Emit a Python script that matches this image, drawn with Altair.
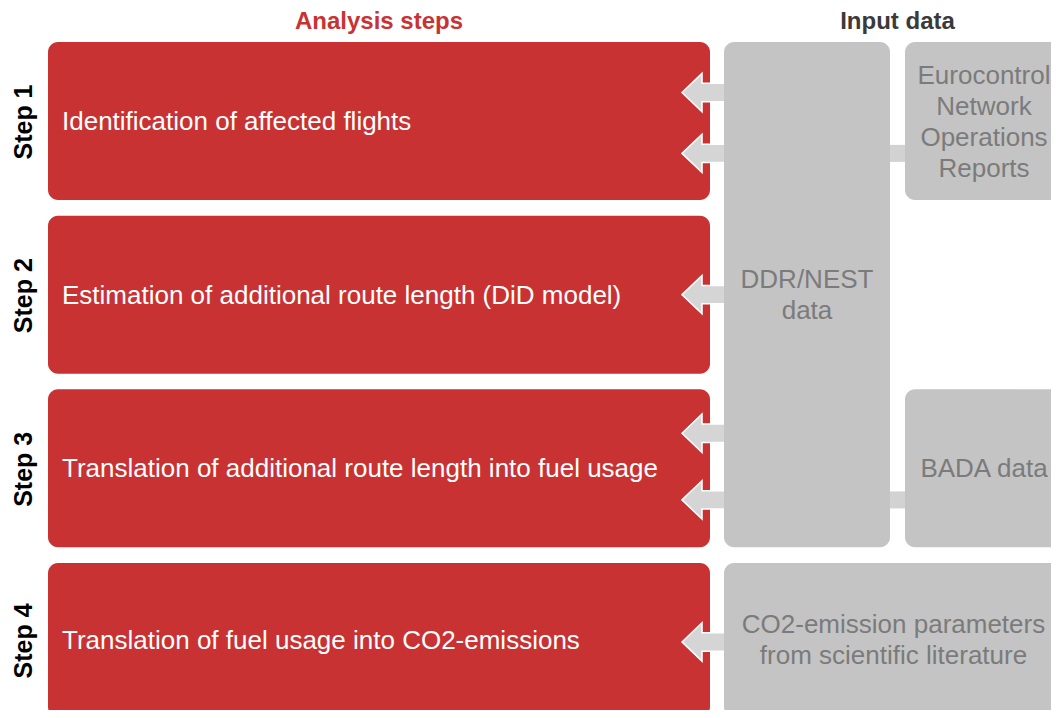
import altair as alt
import pandas as pd

# ---------------- data ----------------
headers = ["Analysis steps", "Input data"]
steps = ["Step 1", "Step 2", "Step 3", "Step 4"]
step_texts = [
    "Identification of affected flights",
    "Estimation of additional route length (DiD model)",
    "Translation of additional route length into fuel usage",
    "Translation of fuel usage into CO2-emissions",
]
input_labels = [
    "Eurocontrol\nNetwork\nOperations\nReports",
    "DDR/NEST\ndata",
    "BADA data",
    "CO2-emission parameters\nfrom scientific literature",
]
input_col_span = [(2, 2), (1, 1), (2, 2), (1, 2)]
input_row_span = [(0, 0), (0, 2), (2, 2), (3, 3)]
arrow_step = [0, 0, 1, 2, 2, 3]
arrow_frac = [0.32, 0.705, 0.5, 0.278, 0.70, 0.5]
connector_step = [0, 2]
connector_frac = [0.705, 0.70]

# ---------------- layout ----------------
ROW_TOP0, ROW_PITCH, ROW_H, BOTTOM = 42.0, 173.65, 158.0, 717.0
COLS = {0: (48, 710), 1: (724, 890), 2: (905, 1063)}
RED, GREY, ARROW, LINK, GTEXT = "#c93232", "#c4c4c4", "#d5d5d5", "#d2d2d2", "#7b7b7b"
FONT = "Liberation Sans, Arial, Helvetica, sans-serif"
LINE_H = 31
W, H = 1043, 702


def rtop(i):
    return ROW_TOP0 + i * ROW_PITCH


def rbot(i):
    return min(rtop(i) + ROW_H, BOTTOM)


red_df = pd.DataFrame({
    "step": steps,
    "text": step_texts,
    "x": [COLS[0][0]] * 4,
    "x2": [COLS[0][1]] * 4,
    "y": [rtop(i) for i in range(4)],
    "y2": [rbot(i) for i in range(4)],
    "tx": [62] * 4,
    "cy": [(rtop(i) + rbot(i)) / 2 + 1 for i in range(4)],
    "lx": [24] * 4,
})

inp_df = pd.DataFrame({
    "label": input_labels,
    "x": [COLS[c[0]][0] for c in input_col_span],
    "x2": [COLS[c[1]][1] + 20 for c in input_col_span],
    "cx": [(COLS[c[0]][0] + COLS[c[1]][1]) / 2 for c in input_col_span],
    "y": [rtop(r[0]) for r in input_row_span],
    "y2": [rbot(r[1]) for r in input_row_span],
})
inp_df.loc[inp_df["x2"] < 1000, "x2"] -= 20
inp_df["ty"] = [
    (a + b) / 2 + 1 - (lab.count("\n")) * LINE_H / 2
    for a, b, lab in zip(inp_df["y"], inp_df["y2"], inp_df["label"])
]

arr_df = pd.DataFrame({
    "x": [704] * len(arrow_step),
    "y": [rtop(s) + f * ROW_H for s, f in zip(arrow_step, arrow_frac)],
})

con_df = pd.DataFrame({
    "x": [COLS[1][1] - 2] * len(connector_step),
    "x2": [COLS[2][0] + 2] * len(connector_step),
    "y": [rtop(s) + f * ROW_H - 8.5 for s, f in zip(connector_step, connector_frac)],
    "y2": [rtop(s) + f * ROW_H + 8.5 for s, f in zip(connector_step, connector_frac)],
})

hdr_df = pd.DataFrame({
    "text": headers,
    "x": [(COLS[0][0] + COLS[0][1]) / 2, (COLS[1][0] + 1071) / 2],
    "y": [22, 22],
    "color": [RED, "#3a3a3a"],
})

xs = alt.Scale(domain=[8, 8 + W], nice=False, zero=False)
ys = alt.Scale(domain=[8, 8 + H], nice=False, zero=False, reverse=True)
X = lambda f: alt.X(f, type="quantitative", scale=xs, axis=None)
Y = lambda f: alt.Y(f, type="quantitative", scale=ys, axis=None)

red_boxes = alt.Chart(red_df).mark_rect(color=RED, cornerRadius=10).encode(
    x=X("x"), x2="x2", y=Y("y"), y2="y2")

links = alt.Chart(con_df).mark_rect(color=LINK).encode(
    x=X("x"), x2="x2", y=Y("y"), y2="y2")

ARROW_PATH = ("M -1 0 L -0.09 -0.873 L -0.09 -0.418 L 1 -0.418 "
              "L 1 0.418 L -0.09 0.418 L -0.09 0.873 Z")
arrows = alt.Chart(arr_df).mark_point(
    shape=ARROW_PATH, filled=True, size=44 * 44, fill=ARROW, stroke="white",
    strokeWidth=1.5, opacity=1, fillOpacity=1, strokeOpacity=1,
).encode(x=X("x"), y=Y("y"))

grey_boxes = alt.Chart(inp_df).mark_rect(color=GREY, cornerRadius=10).encode(
    x=X("x"), x2="x2", y=Y("y"), y2="y2")

red_text = alt.Chart(red_df).mark_text(
    align="left", baseline="middle", color="white", fontSize=26, font=FONT
).encode(x=X("tx"), y=Y("cy"), text="text:N")

grey_text = alt.Chart(inp_df).mark_text(
    align="center", baseline="middle", color=GTEXT, fontSize=26, font=FONT,
    lineBreak="\n", lineHeight=LINE_H
).encode(x=X("cx"), y=Y("ty"), text="label:N")

step_labels = alt.Chart(red_df).mark_text(
    align="center", baseline="middle", color="black", fontSize=25,
    fontWeight="bold", angle=270, font=FONT
).encode(x=X("lx"), y=Y("cy"), text="step:N")

hdrs = alt.Chart(hdr_df).mark_text(
    align="center", baseline="middle", fontSize=24, fontWeight="bold", font=FONT
).encode(x=X("x"), y=Y("y"), text="text:N",
         color=alt.Color("color:N", scale=None))

chart = alt.layer(
    red_boxes, links, arrows, grey_boxes, red_text, grey_text, step_labels, hdrs
).properties(
    width=W, height=H, padding=0, autosize=alt.AutoSizeParams(type="none")
).configure_view(strokeWidth=0, strokeOpacity=0)

chart.save("out.html", embed_options={"renderer": "svg", "actions": False})
